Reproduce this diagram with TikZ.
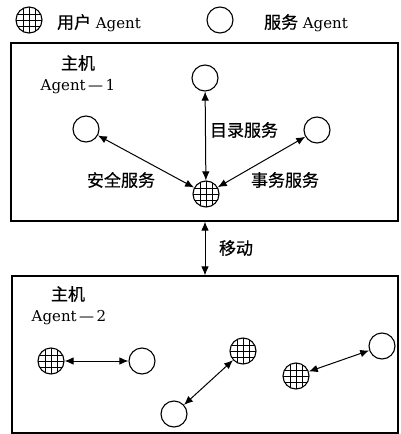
\documentclass[tikz,border=0pt]{standalone}
\usepackage{fontspec}
\newfontfamily\cjk[FakeBold=0.6]{Noto Sans CJK SC}
\newfontfamily\latn{DejaVu Serif}
\usetikzlibrary{arrows.meta}
\begin{document}
\begin{tikzpicture}[x=1pt,y=-1pt,
  svc/.style={circle,draw,line width=1.1pt,minimum size=26pt,inner sep=0pt},
  usr/.style={svc,path picture={
      \foreach \d in {-6,0,6}{
        \draw[line width=0.9pt] ([xshift=\d pt]path picture bounding box.north) -- ([xshift=\d pt]path picture bounding box.south);
        \draw[line width=0.9pt] ([yshift=\d pt]path picture bounding box.west) -- ([yshift=\d pt]path picture bounding box.east);
      }}},
  link/.style={{Latex[length=9pt,width=7.5pt]}-{Latex[length=9pt,width=7.5pt]},line width=1pt},
  box/.style={draw,line width=1.1pt},
  zh/.style={font=\cjk\fontsize{17}{17}\selectfont,inner sep=0pt},
  en/.style={font=\latn\fontsize{15}{15}\selectfont,inner sep=0pt}]
\useasboundingbox (0,0) rectangle (401,434);
% legend
\node[usr] (lu) at (29,20) {};
\node[en] (lut) at (99,23) {{\cjk\fontsize{17}{17}\selectfont 用户} Agent};
\node[svc] (ls) at (220,20) {};
\node[en] (lst) at (306,23) {{\cjk\fontsize{17}{17}\selectfont 服务} Agent};
% top box
\node[box,minimum width=387pt,minimum height=178pt,inner sep=0pt] (host1) at (204.5,132) {};
\node[zh] (h1) at (78,63) {主机};
\node[en] (a1) at (78,87) {Agent\,—\,1};
\node[svc] (c1) at (205,78) {};
\node[svc] (c2) at (86,129) {};
\node[svc] (c3) at (317,130) {};
\node[usr] (u1) at (206,194) {};
\draw[link] (u1) -- (c1);
\draw[link] (u1) -- (c2);
\draw[link] (u1) -- (c3);
\node[zh] (l1) at (244,130) {目录服务};
\node[zh] (l2) at (121,180) {安全服务};
\node[zh] (l3) at (285,180) {事务服务};
% bottom box
\node[box,minimum width=386pt,minimum height=157pt,inner sep=0pt] (host2) at (205,354.5) {};
\draw[link] (host1.south -| 205,0) -- (host2.north -| 205,0);
\node[zh] (mv) at (236,248) {移动};
\node[zh] (h2) at (68,294) {主机};
\node[en] (a2) at (69,318) {Agent\,—\,2};
\node[usr] (u2) at (51,361) {};
\node[svc] (d1) at (142,361) {};
\node[usr] (u3) at (243,351) {};
\node[svc] (d2) at (174,414) {};
\node[usr] (u4) at (296,376) {};
\node[svc] (d3) at (382,346) {};
\draw[link] (u2) -- (d1);
\draw[link] (u3) -- (d2);
\draw[link] (u4) -- (d3);
\end{tikzpicture}
\end{document}
